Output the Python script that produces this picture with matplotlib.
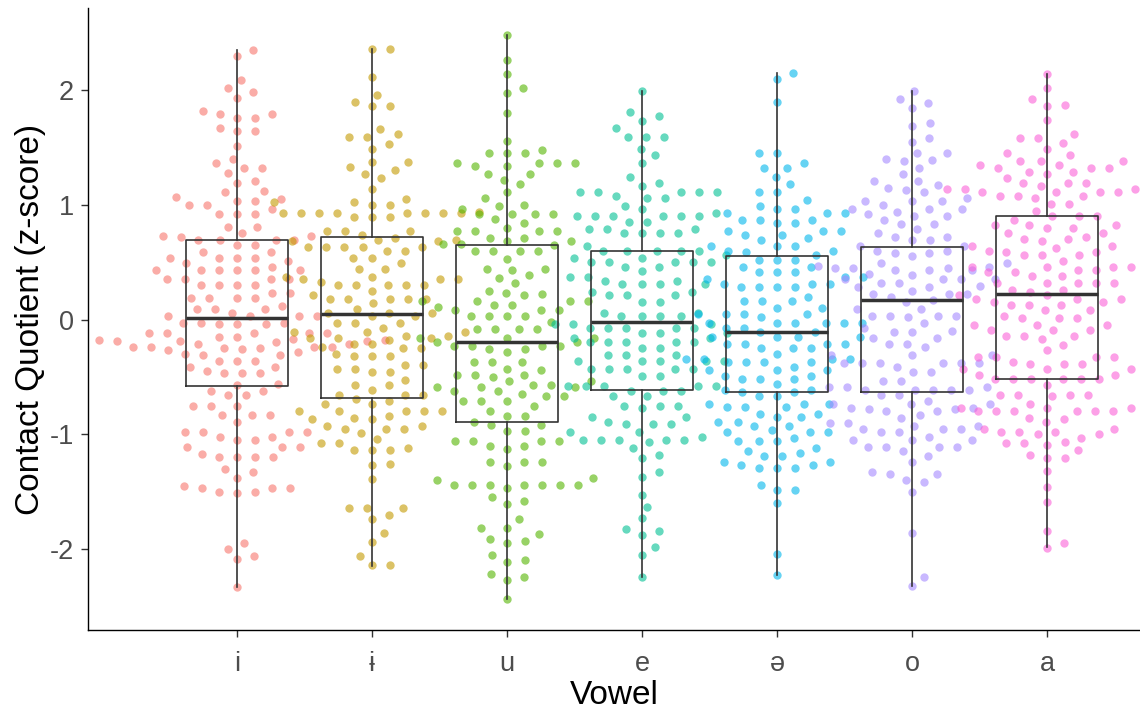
import numpy as np
import matplotlib
matplotlib.use("Agg")
import matplotlib.pyplot as plt

plt.rcParams['font.family'] = ['Liberation Sans', 'DejaVu Sans']

vowels = ["i", "ɨ", "u", "e", "ə", "o", "a"]
colors = ["#F8766D", "#C49A00", "#53B400", "#00C094", "#00B6EB", "#A58AFF", "#FB61D7"]

# contact quotient z-scores per vowel
cq_i = [2.35, 2.30, 2.09, 2.02, 1.98, 1.93, 1.82, 1.79, 1.79, 1.76, 1.76, 1.67, 1.64, 1.64,
        1.51, 1.40, 1.36, 1.32, 1.32, 1.28, 1.21, 1.19, 1.12, 1.11, 1.07, 1.05, 1.03, 1.03,
        1.00, 1.00, 0.96, 0.92, 0.92, 0.92, 0.81, 0.81, 0.75, 0.73, 0.73, 0.72, 0.69, 0.69,
        0.69, 0.69, 0.65, 0.65, 0.59, 0.59, 0.54, 0.54, 0.54, 0.54, 0.51, 0.49, 0.46, 0.43,
        0.43, 0.43, 0.43, 0.43, 0.43, 0.35, 0.35, 0.35, 0.35, 0.30, 0.30, 0.30, 0.30, 0.23,
        0.23, 0.19, 0.19, 0.19, 0.19, 0.12, 0.09, 0.09, 0.09, 0.06, 0.03, 0.03, 0.03, 0.03,
        -0.03, -0.03, -0.03, -0.04, -0.04, -0.04, -0.12, -0.12, -0.12, -0.12, -0.12, -0.15,
        -0.15, -0.17, -0.17, -0.18, -0.18, -0.19, -0.19, -0.19, -0.20, -0.21, -0.21, -0.24,
        -0.24, -0.24, -0.24, -0.25, -0.25, -0.26, -0.27, -0.28, -0.30, -0.31, -0.31, -0.36,
        -0.36, -0.36, -0.41, -0.41, -0.45, -0.47, -0.47, -0.47, -0.56, -0.57, -0.62, -0.62,
        -0.66, -0.66, -0.75, -0.75, -0.75, -0.83, -0.83, -0.83, -0.89, -0.98, -0.98, -0.98,
        -0.98, -1.02, -1.02, -1.05, -1.05, -1.11, -1.11, -1.11, -1.17, -1.20, -1.20, -1.20,
        -1.20, -1.30, -1.33, -1.38, -1.45, -1.47, -1.47, -1.47, -1.50, -1.50, -1.51, -1.95,
        -2.00, -2.06, -2.09, -2.33]
cq_barred_i = [2.36, 2.36, 2.11, 1.96, 1.90, 1.86, 1.86, 1.66, 1.62, 1.59, 1.59, 1.53, 1.49,
               1.37, 1.37, 1.33, 1.30, 1.27, 1.23, 1.14, 1.05, 1.02, 1.02, 1.00, 1.00, 0.94,
               0.93, 0.93, 0.93, 0.93, 0.93, 0.93, 0.93, 0.93, 0.89, 0.89, 0.89, 0.77, 0.77,
               0.77, 0.74, 0.71, 0.69, 0.69, 0.68, 0.68, 0.63, 0.63, 0.63, 0.63, 0.63, 0.60,
               0.60, 0.54, 0.54, 0.49, 0.44, 0.44, 0.37, 0.37, 0.35, 0.35, 0.35, 0.33, 0.30,
               0.30, 0.30, 0.30, 0.30, 0.25, 0.21, 0.18, 0.18, 0.18, 0.18, 0.18, 0.14, 0.09,
               0.06, 0.06, 0.06, 0.03, 0.03, -0.03, -0.03, -0.03, -0.07, -0.11, -0.11, -0.11,
               -0.14, -0.14, -0.16, -0.16, -0.16, -0.18, -0.21, -0.21, -0.24, -0.25, -0.25,
               -0.30, -0.32, -0.32, -0.32, -0.40, -0.40, -0.43, -0.43, -0.46, -0.46, -0.53,
               -0.57, -0.57, -0.61, -0.66, -0.66, -0.66, -0.69, -0.71, -0.74, -0.74, -0.80,
               -0.80, -0.80, -0.80, -0.80, -0.84, -0.86, -0.87, -0.87, -0.93, -0.93, -0.95,
               -0.95, -0.95, -0.99, -1.04, -1.08, -1.08, -1.12, -1.14, -1.14, -1.14, -1.26,
               -1.27, -1.39, -1.64, -1.64, -1.64, -1.70, -1.74, -1.86, -1.94, -2.06, -2.14,
               -2.14]
cq_u = [2.48, 2.26, 2.14, 2.02, 1.97, 1.80, 1.56, 1.48, 1.45, 1.45, 1.45, 1.36, 1.36, 1.36,
        1.36, 1.34, 1.34, 1.27, 1.27, 1.22, 1.18, 1.11, 1.06, 1.00, 0.99, 0.96, 0.92, 0.92,
        0.92, 0.92, 0.88, 0.84, 0.80, 0.77, 0.77, 0.77, 0.77, 0.71, 0.71, 0.68, 0.68, 0.66,
        0.66, 0.65, 0.60, 0.60, 0.60, 0.60, 0.53, 0.44, 0.44, 0.43, 0.39, 0.36, 0.32, 0.25,
        0.23, 0.22, 0.21, 0.16, 0.16, 0.16, 0.16, 0.13, 0.13, 0.11, 0.08, 0.08, 0.08, 0.03,
        0.03, 0.03, 0.03, -0.02, -0.08, -0.08, -0.08, -0.08, -0.16, -0.16, -0.16, -0.20,
        -0.20, -0.23, -0.23, -0.23, -0.23, -0.26, -0.26, -0.28, -0.37, -0.37, -0.37, -0.43,
        -0.44, -0.48, -0.48, -0.48, -0.50, -0.54, -0.54, -0.57, -0.57, -0.59, -0.59, -0.59,
        -0.62, -0.62, -0.65, -0.67, -0.67, -0.71, -0.71, -0.71, -0.75, -0.80, -0.84, -0.84,
        -0.89, -0.92, -0.92, -0.97, -0.97, -1.06, -1.06, -1.06, -1.06, -1.10, -1.10, -1.13,
        -1.24, -1.24, -1.24, -1.28, -1.38, -1.40, -1.44, -1.44, -1.44, -1.44, -1.44, -1.44,
        -1.44, -1.47, -1.55, -1.58, -1.61, -1.74, -1.82, -1.82, -1.87, -1.91, -1.93, -1.95,
        -2.05, -2.10, -2.11, -2.22, -2.24, -2.27, -2.44]
cq_e = [1.99, 1.81, 1.77, 1.73, 1.67, 1.59, 1.59, 1.59, 1.49, 1.43, 1.36, 1.24, 1.19, 1.16,
        1.11, 1.11, 1.11, 1.11, 1.11, 1.08, 1.06, 1.06, 0.99, 0.96, 0.93, 0.90, 0.90, 0.90,
        0.90, 0.90, 0.90, 0.85, 0.85, 0.79, 0.79, 0.79, 0.75, 0.75, 0.75, 0.75, 0.64, 0.60,
        0.60, 0.60, 0.60, 0.60, 0.56, 0.54, 0.54, 0.50, 0.50, 0.50, 0.50, 0.50, 0.46, 0.46,
        0.42, 0.37, 0.37, 0.34, 0.34, 0.31, 0.31, 0.31, 0.31, 0.24, 0.24, 0.21, 0.21, 0.21,
        0.15, 0.15, 0.06, 0.06, 0.03, 0.03, 0.03, 0.03, -0.04, -0.04, -0.04, -0.07, -0.07,
        -0.07, -0.07, -0.07, -0.12, -0.12, -0.12, -0.16, -0.16, -0.20, -0.20, -0.20, -0.20,
        -0.20, -0.25, -0.25, -0.31, -0.31, -0.31, -0.36, -0.36, -0.36, -0.36, -0.36, -0.43,
        -0.43, -0.43, -0.43, -0.43, -0.49, -0.49, -0.58, -0.58, -0.58, -0.58, -0.58, -0.62,
        -0.62, -0.62, -0.67, -0.67, -0.75, -0.75, -0.75, -0.77, -0.85, -0.85, -0.89, -0.91,
        -0.91, -0.91, -0.98, -0.98, -1.02, -1.05, -1.05, -1.05, -1.05, -1.05, -1.07, -1.12,
        -1.18, -1.21, -1.33, -1.37, -1.53, -1.63, -1.73, -1.83, -1.84, -1.88, -1.98, -2.05,
        -2.24]
cq_schwa = [2.15, 2.10, 1.90, 1.45, 1.45, 1.36, 1.32, 1.32, 1.24, 1.18, 1.11, 1.11, 1.04,
            0.99, 0.96, 0.96, 0.93, 0.93, 0.93, 0.87, 0.87, 0.87, 0.84, 0.84, 0.77, 0.77,
            0.77, 0.74, 0.74, 0.71, 0.69, 0.64, 0.64, 0.64, 0.60, 0.60, 0.59, 0.56, 0.52,
            0.52, 0.52, 0.46, 0.46, 0.41, 0.41, 0.41, 0.37, 0.37, 0.35, 0.31, 0.31, 0.31,
            0.28, 0.28, 0.28, 0.28, 0.20, 0.16, 0.16, 0.16, 0.10, 0.10, 0.05, 0.05, 0.05,
            0.05, 0.02, -0.03, -0.03, -0.03, -0.03, -0.03, -0.03, -0.07, -0.07, -0.11, -0.11,
            -0.15, -0.15, -0.15, -0.15, -0.21, -0.21, -0.21, -0.21, -0.25, -0.25, -0.25,
            -0.30, -0.34, -0.34, -0.34, -0.34, -0.37, -0.37, -0.37, -0.37, -0.41, -0.44,
            -0.44, -0.44, -0.49, -0.49, -0.52, -0.52, -0.52, -0.56, -0.61, -0.61, -0.63,
            -0.63, -0.67, -0.67, -0.74, -0.74, -0.74, -0.76, -0.76, -0.76, -0.82, -0.82,
            -0.85, -0.85, -0.89, -0.89, -0.93, -0.93, -0.96, -0.98, -0.98, -0.98, -1.03,
            -1.06, -1.06, -1.06, -1.12, -1.15, -1.16, -1.19, -1.19, -1.24, -1.24, -1.27,
            -1.27, -1.29, -1.29, -1.29, -1.44, -1.49, -1.49, -1.60, -2.04, -2.23]
cq_o = [1.99, 1.92, 1.89, 1.84, 1.71, 1.69, 1.58, 1.55, 1.45, 1.45, 1.40, 1.39, 1.38, 1.32,
        1.27, 1.21, 1.21, 1.17, 1.15, 1.13, 1.11, 1.06, 1.03, 1.03, 1.03, 1.00, 0.96, 0.96,
        0.96, 0.94, 0.92, 0.90, 0.90, 0.87, 0.83, 0.83, 0.79, 0.75, 0.72, 0.72, 0.69, 0.69,
        0.64, 0.64, 0.60, 0.60, 0.58, 0.58, 0.55, 0.49, 0.49, 0.47, 0.46, 0.45, 0.45, 0.45,
        0.43, 0.43, 0.43, 0.40, 0.39, 0.35, 0.35, 0.35, 0.35, 0.32, 0.32, 0.29, 0.28, 0.28,
        0.25, 0.22, 0.22, 0.22, 0.20, 0.17, 0.15, 0.09, 0.09, 0.03, 0.03, 0.03, 0.03, 0.02,
        -0.03, -0.07, -0.10, -0.11, -0.11, -0.16, -0.16, -0.21, -0.21, -0.24, -0.31, -0.31,
        -0.31, -0.38, -0.38, -0.38, -0.38, -0.38, -0.38, -0.41, -0.46, -0.46, -0.54, -0.54,
        -0.59, -0.59, -0.59, -0.61, -0.61, -0.61, -0.61, -0.61, -0.66, -0.66, -0.71, -0.74,
        -0.74, -0.74, -0.77, -0.77, -0.78, -0.78, -0.80, -0.80, -0.83, -0.86, -0.90, -0.90,
        -0.93, -0.93, -0.95, -0.95, -0.95, -0.98, -0.98, -1.02, -1.05, -1.05, -1.05, -1.11,
        -1.11, -1.11, -1.11, -1.15, -1.19, -1.24, -1.33, -1.35, -1.35, -1.40, -1.42, -1.50,
        -1.86, -2.24, -2.32]
cq_a = [2.14, 2.02, 1.92, 1.87, 1.86, 1.74, 1.62, 1.58, 1.58, 1.54, 1.49, 1.45, 1.43, 1.38,
        1.38, 1.38, 1.35, 1.35, 1.32, 1.32, 1.32, 1.29, 1.29, 1.27, 1.23, 1.19, 1.19, 1.19,
        1.16, 1.16, 1.14, 1.14, 1.14, 1.11, 1.11, 1.11, 1.11, 1.08, 1.08, 1.08, 1.06, 1.01,
        1.01, 0.95, 0.90, 0.90, 0.90, 0.87, 0.82, 0.82, 0.82, 0.80, 0.80, 0.75, 0.75, 0.72,
        0.70, 0.70, 0.68, 0.64, 0.64, 0.62, 0.60, 0.59, 0.59, 0.56, 0.56, 0.56, 0.51, 0.46,
        0.46, 0.46, 0.46, 0.43, 0.43, 0.41, 0.41, 0.38, 0.38, 0.32, 0.32, 0.32, 0.32, 0.32,
        0.26, 0.26, 0.24, 0.21, 0.21, 0.18, 0.18, 0.18, 0.15, 0.15, 0.13, 0.13, 0.13, 0.08,
        0.08, 0.03, 0.01, 0.01, 0.01, -0.05, -0.05, -0.05, -0.09, -0.09, -0.09, -0.14, -0.14,
        -0.14, -0.17, -0.22, -0.27, -0.33, -0.33, -0.33, -0.33, -0.37, -0.39, -0.39, -0.39,
        -0.43, -0.43, -0.43, -0.43, -0.48, -0.48, -0.52, -0.52, -0.52, -0.52, -0.52, -0.52,
        -0.57, -0.66, -0.66, -0.66, -0.66, -0.67, -0.74, -0.77, -0.77, -0.77, -0.80, -0.80,
        -0.80, -0.80, -0.80, -0.80, -0.86, -0.87, -0.89, -0.95, -0.95, -0.98, -0.98, -0.98,
        -1.00, -1.00, -1.03, -1.07, -1.08, -1.08, -1.09, -1.14, -1.18, -1.21, -1.21, -1.32,
        -1.46, -1.59, -1.84, -1.95, -1.99]
groups = [cq_i, cq_barred_i, cq_u, cq_e, cq_schwa, cq_o, cq_a]

# box statistics as drawn in the figure
box_q1 = [-0.58, -0.68, -0.89, -0.61, -0.63, -0.63, -0.52]
box_med = [0.01, 0.05, -0.20, -0.02, -0.11, 0.17, 0.22]
box_q3 = [0.69, 0.72, 0.65, 0.60, 0.55, 0.63, 0.90]
whisker_lo = [-2.33, -2.15, -2.44, -2.24, -2.23, -2.32, -1.98]
whisker_hi = [2.35, 2.36, 2.48, 1.99, 2.15, 1.99, 2.14]

PX_X = 135.0    # pixels per category step
PX_Y = 114.75   # pixels per z unit


def swarm(vals, dx=18.0, dy=12.0):
    # beeswarm offsets, points placed in ascending order
    y = np.asarray(vals) * PX_Y
    xs = np.zeros(len(y))
    done = []
    for i in np.argsort(y, kind="stable"):
        near = [(xs[j], y[j]) for j in done if abs(y[j] - y[i]) < dy]
        cands = [0.0]
        for px, py in near:
            w = dx * np.sqrt(1 - ((py - y[i]) / dy) ** 2)
            cands += [px + w, px - w]
        cands.sort(key=abs)
        for c in cands:
            if all(((c - px) / dx) ** 2 + ((y[i] - py) / dy) ** 2 >= 0.999 for px, py in near):
                xs[i] = c
                break
        done.append(i)
    return xs / PX_X


fig = plt.figure(figsize=(11.4, 7.14), dpi=100)
ax = fig.add_axes([88 / 1140, 84 / 714, 1052 / 1140, 622 / 714])

for k, vals in enumerate(groups):
    x = k + 1 + swarm(vals)
    ax.scatter(x, vals, s=36, color=colors[k], alpha=0.6, linewidths=0, zorder=2)

stats = []
for k in range(len(vowels)):
    stats.append({'med': box_med[k], 'q1': box_q1[k], 'q3': box_q3[k],
                  'whislo': whisker_lo[k], 'whishi': whisker_hi[k], 'fliers': []})
ax.bxp(stats, positions=range(1, 8), widths=0.75, showcaps=False, showfliers=False,
       boxprops=dict(color='#333333', lw=1.2),
       whiskerprops=dict(color='#333333', lw=1.2),
       medianprops=dict(color='#333333', lw=2.5, solid_capstyle='butt'),
       zorder=3)

ax.set_xlim(-0.104, 7.689)
ax.set_ylim(-2.706, 2.715)
ax.set_xticks(range(1, 8))
ax.set_xticklabels(vowels)
ax.set_yticks([-2, -1, 0, 1, 2])
ax.set_yticklabels(['-2', '-1', '0', '1', '2'])

for s in ['top', 'right']:
    ax.spines[s].set_visible(False)
for s in ['left', 'bottom']:
    ax.spines[s].set_color('black')
    ax.spines[s].set_linewidth(1.0)

ax.tick_params(length=5, width=1, color='#333333', labelsize=19.5, labelcolor='#4D4D4D')
ax.tick_params(axis='x', pad=10)
ax.tick_params(axis='y', pad=5)
ax.set_xlabel('Vowel', fontsize=24, labelpad=2)
ax.set_ylabel('Contact Quotient (z-score)', fontsize=24, labelpad=3)

fig.savefig('out.png', dpi=100)
